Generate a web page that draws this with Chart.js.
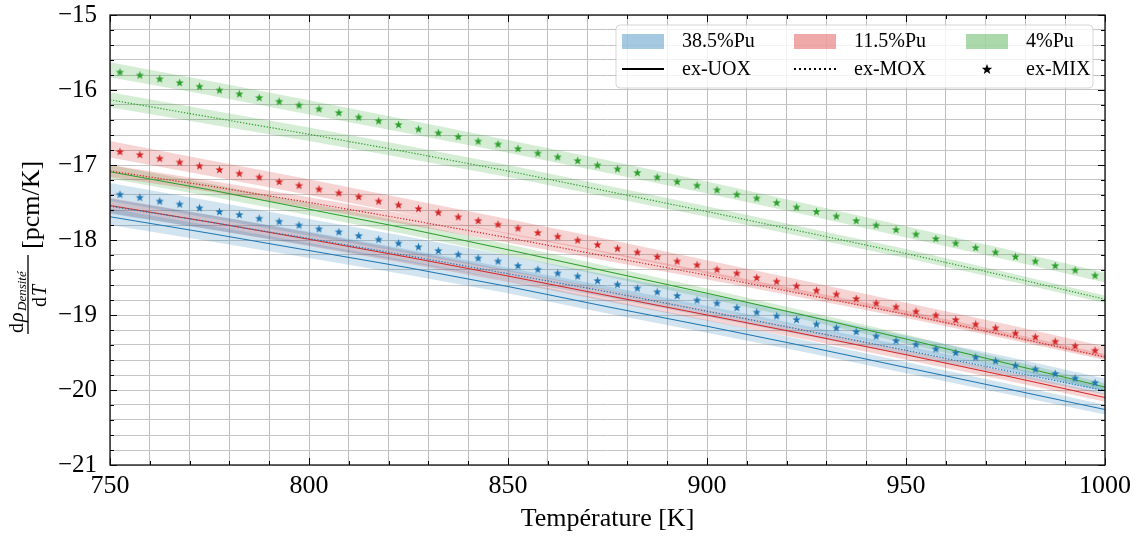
<!DOCTYPE html>
<html>
<head>
<meta charset="utf-8">
<script src="https://cdn.jsdelivr.net/npm/chart.js@4/dist/chart.umd.min.js"></script>
<style>
  html, body { margin: 0; padding: 0; background: #fff; }
</style>
</head>
<body>
<canvas id="chart" width="1137" height="538"></canvas>
<script>
// d(rho)/dT vs temperature - three Pu contents, three fuel histories

const SERIF = '"Liberation Serif", "DejaVu Serif", serif';

const BLUE = '#1f77b4';
const RED = '#d62728';
const GREEN = '#2ca02c';

// line grid (K)
const lineT = [750, 775, 800, 825, 850, 875, 900, 925, 950, 975, 1000];

// ex-UOX (solid)
const uox385 = [-17.69, -17.91, -18.14, -18.37, -18.62, -18.89, -19.15, -19.42, -19.70, -19.98, -20.26];
const uox115 = [-17.54, -17.76, -17.99, -18.23, -18.48, -18.74, -19.00, -19.26, -19.53, -19.81, -20.10];
const uox4 = [-17.09, -17.33, -17.59, -17.85, -18.13, -18.42, -18.71, -19.01, -19.32, -19.64, -19.96];

// ex-MOX (dotted)
const mox385 = [-17.55, -17.76, -17.98, -18.21, -18.45, -18.69, -18.95, -19.21, -19.47, -19.74, -20.01];
const mox115 = [-17.08, -17.28, -17.50, -17.73, -17.97, -18.22, -18.47, -18.73, -18.99, -19.27, -19.56];
const mox4 = [-16.13, -16.36, -16.59, -16.83, -17.08, -17.35, -17.62, -17.90, -18.18, -18.48, -18.79];

// uncertainty bands (upper / lower)
const uox385Hi = [-17.58, -17.805, -18.04, -18.275, -18.53, -18.80, -19.065, -19.34, -19.625, -19.91, -20.195];
const uox385Lo = [-17.80, -18.015, -18.24, -18.465, -18.71, -18.98, -19.235, -19.50, -19.775, -20.05, -20.325];
const uox115Hi = [-17.44, -17.665, -17.90, -18.145, -18.40, -18.66, -18.925, -19.19, -19.465, -19.75, -20.045];
const uox115Lo = [-17.64, -17.855, -18.08, -18.315, -18.56, -18.82, -19.075, -19.33, -19.595, -19.87, -20.155];
const uox4Hi = [-17.00, -17.245, -17.51, -17.77, -18.055, -18.35, -18.645, -18.95, -19.26, -19.585, -19.91];
const uox4Lo = [-17.18, -17.415, -17.67, -17.93, -18.205, -18.49, -18.775, -19.07, -19.38, -19.695, -20.01];

const mox385Hi = [-17.45, -17.665, -17.89, -18.125, -18.37, -18.615, -18.88, -19.145, -19.41, -19.685, -19.96];
const mox385Lo = [-17.65, -17.855, -18.07, -18.295, -18.53, -18.765, -19.02, -19.275, -19.53, -19.795, -20.06];
const mox115Hi = [-17.00, -17.205, -17.43, -17.66, -17.905, -18.16, -18.415, -18.68, -18.94, -19.225, -19.52];
const mox115Lo = [-17.16, -17.355, -17.57, -17.80, -18.035, -18.28, -18.525, -18.78, -19.04, -19.315, -19.60];
const mox4Hi = [-16.03, -16.265, -16.50, -16.745, -17.00, -17.275, -17.55, -17.835, -18.12, -18.425, -18.74];
const mox4Lo = [-16.23, -16.455, -16.68, -16.915, -17.16, -17.425, -17.69, -17.965, -18.24, -18.535, -18.84];

const mix385Hi = [-17.24, -17.475, -17.72, -17.955, -18.205, -18.465, -18.72, -18.995, -19.275, -19.55, -19.845];
const mix385Lo = [-17.48, -17.705, -17.94, -18.175, -18.415, -18.665, -18.92, -19.185, -19.455, -19.73, -20.015];
const mix115Hi = [-16.68, -16.935, -17.19, -17.455, -17.72, -17.99, -18.27, -18.55, -18.835, -19.12, -19.42];
const mix115Lo = [-16.90, -17.145, -17.40, -17.655, -17.92, -18.18, -18.45, -18.73, -19.005, -19.29, -19.58];
const mix4Hi = [-15.63, -15.88, -16.135, -16.40, -16.665, -16.935, -17.22, -17.515, -17.815, -18.12, -18.435];
const mix4Lo = [-15.83, -16.07, -16.325, -16.58, -16.835, -17.105, -17.38, -17.665, -17.965, -18.26, -18.565];

// ex-MIX (stars), sampled every 5 K
const starT = [752.5, 757.5, 762.5, 767.5, 772.5, 777.5, 782.5, 787.5, 792.5, 797.5,
  802.5, 807.5, 812.5, 817.5, 822.5, 827.5, 832.5, 837.5, 842.5, 847.5,
  852.5, 857.5, 862.5, 867.5, 872.5, 877.5, 882.5, 887.5, 892.5, 897.5,
  902.5, 907.5, 912.5, 917.5, 922.5, 927.5, 932.5, 937.5, 942.5, 947.5,
  952.5, 957.5, 962.5, 967.5, 972.5, 977.5, 982.5, 987.5, 992.5, 997.5];
const mix385 = [-17.39, -17.43, -17.48, -17.52, -17.57, -17.62, -17.66, -17.71, -17.75, -17.80,
  -17.85, -17.89, -17.94, -17.99, -18.04, -18.09, -18.14, -18.19, -18.24, -18.28,
  -18.34, -18.39, -18.44, -18.48, -18.54, -18.59, -18.64, -18.69, -18.74, -18.80,
  -18.84, -18.90, -18.96, -19.01, -19.06, -19.12, -19.17, -19.22, -19.28, -19.34,
  -19.39, -19.45, -19.50, -19.56, -19.61, -19.67, -19.72, -19.78, -19.84, -19.90];
const mix115 = [-16.82, -16.86, -16.91, -16.96, -17.01, -17.06, -17.11, -17.16, -17.22, -17.27,
  -17.32, -17.37, -17.42, -17.48, -17.53, -17.58, -17.63, -17.69, -17.74, -17.79,
  -17.84, -17.90, -17.95, -18.00, -18.06, -18.11, -18.16, -18.22, -18.28, -18.33,
  -18.39, -18.44, -18.50, -18.55, -18.61, -18.67, -18.72, -18.78, -18.84, -18.89,
  -18.95, -19.00, -19.06, -19.12, -19.17, -19.24, -19.29, -19.35, -19.41, -19.47];
const mix4 = [-15.76, -15.80, -15.85, -15.90, -15.95, -16.00, -16.05, -16.10, -16.15, -16.20,
  -16.25, -16.30, -16.36, -16.41, -16.46, -16.52, -16.57, -16.62, -16.68, -16.72,
  -16.78, -16.84, -16.89, -16.94, -17.00, -17.05, -17.10, -17.16, -17.22, -17.27,
  -17.33, -17.39, -17.44, -17.50, -17.56, -17.62, -17.68, -17.74, -17.80, -17.86,
  -17.92, -17.98, -18.04, -18.10, -18.16, -18.22, -18.28, -18.34, -18.40, -18.47];

const legendRows = [
  [{ kind: 'patch', color: BLUE, label: '38.5%Pu' }, { kind: 'patch', color: RED, label: '11.5%Pu' }, { kind: 'patch', color: GREEN, label: '4%Pu' }],
  [{ kind: 'solid', label: 'ex-UOX' }, { kind: 'dotted', label: 'ex-MOX' }, { kind: 'star', label: 'ex-MIX' }]
];

function pts(xs, ys) {
  return xs.map((x, i) => ({ x: x, y: ys[i] }));
}

function rgba(hex, a) {
  const n = parseInt(hex.slice(1), 16);
  return `rgba(${(n >> 16) & 255}, ${(n >> 8) & 255}, ${n & 255}, ${a})`;
}

function starPath(ctx, cx, cy, r) {
  ctx.beginPath();
  for (let i = 0; i < 10; i++) {
    const ang = -Math.PI / 2 + i * Math.PI / 5;
    const rr = i % 2 ? r * 0.42 : r;
    ctx.lineTo(cx + rr * Math.cos(ang), cy + rr * Math.sin(ang));
  }
  ctx.closePath();
}

function makeStar(color, r) {
  const c = document.createElement('canvas');
  const size = Math.ceil(r * 2) + 2;
  c.width = c.height = size;
  const g = c.getContext('2d');
  g.fillStyle = color;
  starPath(g, size / 2, size / 2 + 0.4, r);
  g.fill();
  return c;
}

function band(hi, lo, color) {
  return [
    { data: pts(lineT, hi), borderWidth: 0, pointRadius: 0, fill: '+1', backgroundColor: rgba(color, 0.2), order: 3 },
    { data: pts(lineT, lo), borderWidth: 0, pointRadius: 0, fill: false, order: 3 }
  ];
}

function curve(ys, color, dotted) {
  return {
    data: pts(lineT, ys), borderColor: color, borderWidth: 1.2, pointRadius: 0, fill: false,
    borderDash: dotted ? [1.3, 1.7] : [], order: 2
  };
}

function stars(ys, color) {
  return {
    data: pts(starT, ys), showLine: false, pointStyle: makeStar(color, 4.3),
    pointRadius: 5, borderWidth: 0, order: 1
  };
}

const datasets = [
  ...band(uox385Hi, uox385Lo, BLUE), ...band(mox385Hi, mox385Lo, BLUE), ...band(mix385Hi, mix385Lo, BLUE),
  ...band(uox115Hi, uox115Lo, RED), ...band(mox115Hi, mox115Lo, RED), ...band(mix115Hi, mix115Lo, RED),
  ...band(uox4Hi, uox4Lo, GREEN), ...band(mox4Hi, mox4Lo, GREEN), ...band(mix4Hi, mix4Lo, GREEN),
  curve(uox385, BLUE, false), curve(mox385, BLUE, true),
  curve(uox115, RED, false), curve(mox115, RED, true),
  curve(uox4, GREEN, false), curve(mox4, GREEN, true),
  stars(mix385, BLUE), stars(mix115, RED), stars(mix4, GREEN)
];

// frame, inward ticks, axis titles and legend
const decorations = {
  id: 'decorations',
  afterDraw(chart) {
    const { ctx, chartArea: a, scales: { x, y } } = chart;
    ctx.save();

    // inward ticks on all four sides
    ctx.strokeStyle = '#000';
    ctx.lineWidth = 1;
    ctx.beginPath();
    x.ticks.forEach(t => {
      const px = Math.round(x.getPixelForValue(t.value)) + 0.5;
      const len = t.value % 50 === 0 ? 7 : 4;
      ctx.moveTo(px, a.bottom); ctx.lineTo(px, a.bottom - len);
      ctx.moveTo(px, a.top); ctx.lineTo(px, a.top + len);
    });
    y.ticks.forEach(t => {
      const py = Math.round(y.getPixelForValue(t.value)) + 0.5;
      const major = Math.abs(t.value - Math.round(t.value)) < 1e-6;
      const len = major ? 7 : 4;
      ctx.moveTo(a.left, py); ctx.lineTo(a.left + len, py);
      ctx.moveTo(a.right, py); ctx.lineTo(a.right - len, py);
    });
    ctx.stroke();

    ctx.lineWidth = 1.3;
    ctx.strokeStyle = '#111';
    ctx.strokeRect(a.left, a.top, a.right - a.left, a.bottom - a.top);

    // x title
    ctx.fillStyle = '#000';
    ctx.font = `26px ${SERIF}`;
    ctx.textAlign = 'center';
    ctx.textBaseline = 'alphabetic';
    ctx.fillText('Température [K]', (a.left + a.right) / 2, 526);

    // y title: fraction d rho_Densite / dT then [pcm/K], rotated
    ctx.save();
    ctx.translate(0, 335);
    ctx.rotate(-Math.PI / 2);
    ctx.textAlign = 'left';
    ctx.font = `26px ${SERIF}`;
    ctx.fillText('[pcm/K]', 86, 39);
    ctx.lineWidth = 1.4;
    ctx.beginPath();
    ctx.moveTo(1, 28); ctx.lineTo(80, 28);
    ctx.stroke();
    ctx.font = `20px ${SERIF}`;
    ctx.fillText('d', 2, 23);
    ctx.font = `italic 20px ${SERIF}`;
    ctx.fillText('ρ', 13, 23);
    ctx.font = `italic 13px ${SERIF}`;
    ctx.fillText('Densité', 24, 26);
    ctx.font = `20px ${SERIF}`;
    ctx.fillText('d', 28, 46);
    ctx.font = `italic 20px ${SERIF}`;
    ctx.fillText('T', 39, 46);
    ctx.restore();

    // legend
    const bx = 616, by = 25, bw = 477, bh = 63;
    ctx.beginPath();
    ctx.roundRect(bx, by, bw, bh, 4);
    ctx.fillStyle = 'rgba(255,255,255,0.8)';
    ctx.fill();
    ctx.strokeStyle = 'rgba(204,204,204,0.8)';
    ctx.lineWidth = 1;
    ctx.stroke();

    const colX = [622, 794, 966];
    const rowY = [41, 69];
    ctx.font = `20px ${SERIF}`;
    ctx.textBaseline = 'middle';
    ctx.textAlign = 'left';
    legendRows.forEach((row, r) => {
      row.forEach((item, c) => {
        const x0 = colX[c], yc = rowY[r];
        if (item.kind === 'patch') {
          ctx.fillStyle = rgba(item.color, 0.4);
          ctx.fillRect(x0, yc - 7, 42, 15);
        } else if (item.kind === 'solid' || item.kind === 'dotted') {
          ctx.strokeStyle = '#000';
          ctx.lineWidth = 2;
          ctx.setLineDash(item.kind === 'dotted' ? [2, 3] : []);
          ctx.beginPath();
          ctx.moveTo(x0, yc); ctx.lineTo(x0 + 42, yc);
          ctx.stroke();
          ctx.setLineDash([]);
        } else {
          ctx.fillStyle = '#000';
          starPath(ctx, x0 + 21, yc + 0.5, 5.5);
          ctx.fill();
        }
        ctx.fillStyle = '#000';
        ctx.fillText(item.label, x0 + 60, yc + 1);
      });
    });
    ctx.restore();
  }
};

new Chart(document.getElementById('chart'), {
  type: 'line',
  data: { datasets: datasets },
  options: {
    responsive: false,
    animation: false,
    devicePixelRatio: 1,
    layout: { padding: { top: 0, right: 32, left: 0, bottom: 0 } },
    plugins: { legend: { display: false }, tooltip: { enabled: false } },
    scales: {
      x: {
        type: 'linear',
        min: 750,
        max: 1000,
        afterFit(scale) { scale.height = 73; },
        grid: { color: '#bdbdbd', lineWidth: 1, drawTicks: false, tickLength: 0 },
        border: { display: false },
        ticks: {
          stepSize: 10,
          autoSkip: false,
          maxRotation: 0,
          padding: 6,
          color: '#000',
          font: { family: SERIF, size: 26 },
          callback: v => (v % 50 === 0 ? String(v) : '')
        }
      },
      y: {
        type: 'linear',
        min: -21,
        max: -15,
        afterFit(scale) { scale.width = 110; scale.paddingTop = 15; },
        grid: { color: '#c4c4c4', lineWidth: 1, drawTicks: false, tickLength: 0 },
        border: { display: false },
        ticks: {
          stepSize: 0.2,
          autoSkip: false,
          padding: 13,
          color: '#000',
          font: { family: SERIF, size: 25 },
          callback: v => {
            const r = Math.round(v);
            return Math.abs(v - r) < 1e-6 ? '\u2212' + Math.abs(r) : '';
          }
        }
      }
    }
  },
  plugins: [decorations]
});
</script>
</body>
</html>
